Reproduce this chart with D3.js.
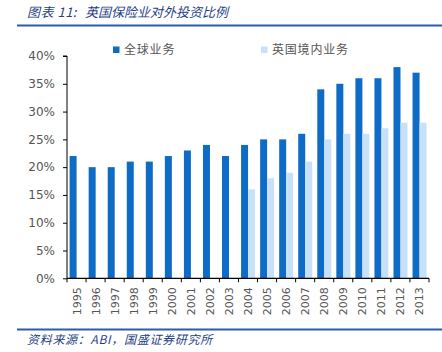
<!DOCTYPE html>
<html><head><meta charset="utf-8">
<script src="https://cdn.jsdelivr.net/npm/d3@7"></script>
<style>body{margin:0;background:#fff}svg{display:block}</style>
</head><body><svg id="c" width="442" height="352"></svg>
<script>
const years = ["1995","1996","1997","1998","1999","2000","2001","2002","2003","2004","2005","2006","2007","2008","2009","2010","2011","2012","2013"];
const globalBiz = [22,20,20,21,21,22,23,24,22,24,25,25,26,34,35,36,36,38,37];
const ukBiz = [null,null,null,null,null,null,null,null,null,16,18,19,21,25,26,26,27,28,28];
const yTicks = [0,5,10,15,20,25,30,35,40];
const seriesNames = ["全球业务","英国境内业务"];
const colors = ["#0f6cc6","#c8e1f9"];

const svg = d3.select("#c");
const m = {l:67, r:429, t:56, b:278.3};
const x = d3.scaleBand().domain(years).range([m.l, m.r]).paddingInner(0).paddingOuter(0);
const y = d3.scaleLinear().domain([0,40]).range([m.b, m.t]);
const bw = 7, off = 2.6;

// title
const tt = svg.append("text").attr("y",17).attr("fill","#1f3f86")
  .attr("font-family","'Noto Sans CJK SC', sans-serif").attr("font-size",13).attr("font-style","italic");
tt.append("tspan").attr("x",27).attr("letter-spacing",0.5).text("图表 11:");
tt.append("tspan").attr("x",85).attr("letter-spacing",0).text("英国保险业对外投资比例");
svg.append("rect").attr("x",17).attr("y",24.5).attr("width",425).attr("height",2).attr("fill","#2a5caa");

// bars
svg.append("g").selectAll("rect").data(years).join("rect")
  .attr("x",d=>x(d)+off).attr("width",bw)
  .attr("y",(d,i)=>y(globalBiz[i])).attr("height",(d,i)=>y(0)-y(globalBiz[i]))
  .attr("fill",colors[0]);
svg.append("g").selectAll("rect").data(years.filter((d,i)=>ukBiz[i]!=null)).join("rect")
  .attr("x",d=>x(d)+off+bw).attr("width",bw)
  .attr("y",d=>y(ukBiz[years.indexOf(d)])).attr("height",d=>y(0)-y(ukBiz[years.indexOf(d)]))
  .attr("fill",colors[1]);

// y axis
const ya = svg.append("g").attr("transform",`translate(${m.l},0)`)
  .call(d3.axisLeft(y).tickValues(yTicks).tickSize(4).tickPadding(8).tickFormat(d=>d+"%"));
ya.select(".domain").attr("stroke","#000").attr("d",`M-4,${m.t}H0V${m.b}`);
ya.selectAll(".tick line").attr("stroke","#000");
ya.selectAll("text").attr("fill","#555").attr("font-family","'DejaVu Sans'").attr("font-size",12);

// x axis
const xa = svg.append("g").attr("transform",`translate(0,${m.b})`);
xa.append("line").attr("x1",m.l).attr("x2",m.r).attr("stroke","#000").attr("stroke-width",1.2);
xa.selectAll(".tk").data(years.concat(["end"])).join("line")
  .attr("x1",(d,i)=>m.l+i*x.bandwidth()).attr("x2",(d,i)=>m.l+i*x.bandwidth())
  .attr("y1",0).attr("y2",4).attr("stroke","#000");
xa.selectAll("text").data(years).join("text")
  .attr("transform",d=>`translate(${x(d)+x.bandwidth()/2+4},9) rotate(-90)`)
  .attr("text-anchor","end").attr("fill","#555")
  .attr("font-family","'DejaVu Sans'").attr("font-size",11).text(d=>d);

// legend
const lg = [{x:113,name:seriesNames[0],c:colors[0]},{x:261,name:seriesNames[1],c:colors[1]}];
lg.forEach(l=>{
  svg.append("rect").attr("x",l.x).attr("y",46.5).attr("width",6.5).attr("height",6.5).attr("fill",l.c);
  svg.append("text").attr("x",l.x+11).attr("y",54).attr("fill","#555")
    .attr("font-family","'Noto Sans CJK SC'").attr("font-size",12).attr("letter-spacing",0.8).text(l.name);
});

// footer
svg.append("rect").attr("x",17).attr("y",328.5).attr("width",425).attr("height",2).attr("fill","#2a5caa");
svg.append("text").attr("x",27).attr("y",344).attr("fill","#1f3f86")
  .attr("font-family","'Noto Sans CJK SC'").attr("font-size",12).attr("font-style","italic").attr("letter-spacing",0.7)
  .text("资料来源：ABI，国盛证券研究所");
</script></body></html>
